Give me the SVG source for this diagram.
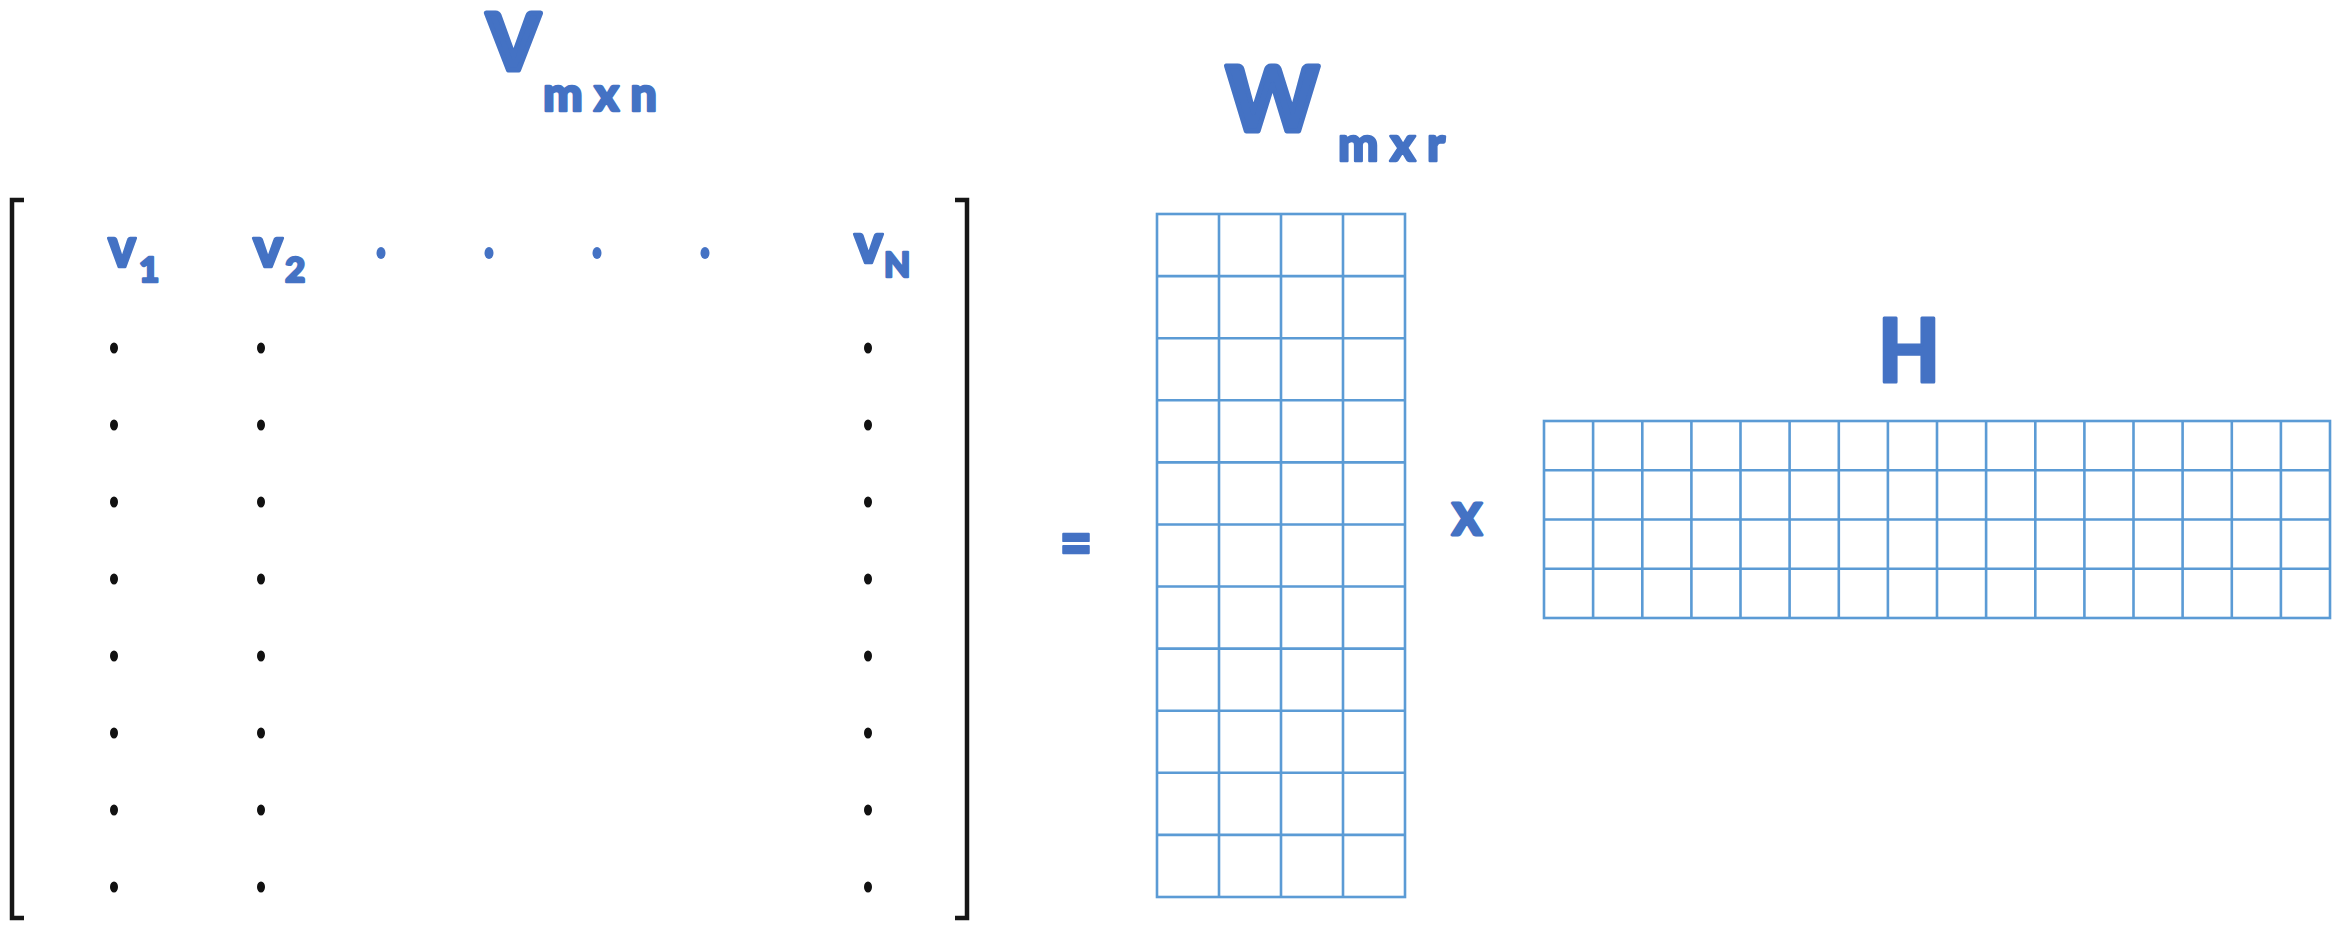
<svg xmlns="http://www.w3.org/2000/svg" width="2343" height="925" viewBox="0 0 2343 925">
<style>
.t{font-family:Lato,"Open Sans","Liberation Sans",sans-serif;font-weight:900;fill:#4472C4;stroke:#4472C4;stroke-linejoin:round}
.b{stroke-width:5}
.m{stroke-width:3}
.s{stroke-width:2.4}
.grid{fill:none;stroke:#5B9BD5;stroke-width:2.6}
.br{fill:none;stroke:#161616;stroke-width:4.5}
.bd{fill:#4472C4}
.kd{fill:#111}
</style>
<rect width="2343" height="925" fill="#fff"/>
<g id="V-label">
<text class="t b" x="487" y="69.5" font-size="78" textLength="53" lengthAdjust="spacingAndGlyphs">V</text>
<text class="t s" x="543" y="111" font-size="47" textLength="114" lengthAdjust="spacingAndGlyphs">m x n</text>
</g>
<g id="V-matrix">
<path class="br" d="M24,200 H12 V918 H24"/>
<path class="br" d="M955,200 H967 V918 H955"/>
<text class="t s" x="108" y="267" font-size="55" textLength="28" lengthAdjust="spacingAndGlyphs">v</text>
<text class="t s" x="139" y="282" font-size="35">1</text>
<text class="t s" x="253" y="267" font-size="55" textLength="30" lengthAdjust="spacingAndGlyphs">v</text>
<text class="t s" x="285" y="282" font-size="35">2</text>
<text class="t s" x="854" y="263" font-size="55" textLength="29" lengthAdjust="spacingAndGlyphs">v</text>
<text class="t s" x="884" y="277" font-size="34">N</text>
<g class="bd">
<ellipse cx="381" cy="253" rx="4.5" ry="6"/>
<ellipse cx="489" cy="253" rx="4.5" ry="6"/>
<ellipse cx="597" cy="253" rx="4.5" ry="6"/>
<ellipse cx="705" cy="253" rx="4.5" ry="6"/>
</g>
<g class="kd">
<ellipse cx="114" cy="348" rx="4" ry="5.5"/><ellipse cx="261" cy="348" rx="4" ry="5.5"/><ellipse cx="868" cy="348" rx="4" ry="5.5"/>
<ellipse cx="114" cy="425" rx="4" ry="5.5"/><ellipse cx="261" cy="425" rx="4" ry="5.5"/><ellipse cx="868" cy="425" rx="4" ry="5.5"/>
<ellipse cx="114" cy="502" rx="4" ry="5.5"/><ellipse cx="261" cy="502" rx="4" ry="5.5"/><ellipse cx="868" cy="502" rx="4" ry="5.5"/>
<ellipse cx="114" cy="579" rx="4" ry="5.5"/><ellipse cx="261" cy="579" rx="4" ry="5.5"/><ellipse cx="868" cy="579" rx="4" ry="5.5"/>
<ellipse cx="114" cy="656" rx="4" ry="5.5"/><ellipse cx="261" cy="656" rx="4" ry="5.5"/><ellipse cx="868" cy="656" rx="4" ry="5.5"/>
<ellipse cx="114" cy="733" rx="4" ry="5.5"/><ellipse cx="261" cy="733" rx="4" ry="5.5"/><ellipse cx="868" cy="733" rx="4" ry="5.5"/>
<ellipse cx="114" cy="810" rx="4" ry="5.5"/><ellipse cx="261" cy="810" rx="4" ry="5.5"/><ellipse cx="868" cy="810" rx="4" ry="5.5"/>
<ellipse cx="114" cy="887" rx="4" ry="5.5"/><ellipse cx="261" cy="887" rx="4" ry="5.5"/><ellipse cx="868" cy="887" rx="4" ry="5.5"/>
</g>
</g>
<g id="equals">
<text class="t s" x="1076" y="566" font-size="68" text-anchor="middle" textLength="33" lengthAdjust="spacingAndGlyphs">=</text>
</g>
<g id="W-matrix">
<text class="t b" x="1226" y="130.5" font-size="90" textLength="93" lengthAdjust="spacingAndGlyphs">W</text>
<text class="t s" x="1338" y="161" font-size="48" textLength="107" lengthAdjust="spacingAndGlyphs">m x r</text>
<rect class="grid" x="1157" y="214" width="248" height="683"/>
<path class="grid" d="M1219,214V897M1281,214V897M1343,214V897M1157,276.1H1405M1157,338.2H1405M1157,400.3H1405M1157,462.4H1405M1157,524.5H1405M1157,586.5H1405M1157,648.6H1405M1157,710.7H1405M1157,772.8H1405M1157,834.9H1405"/>
</g>
<g id="times">
<text class="t m" x="1452" y="534.5" font-size="44" textLength="30" lengthAdjust="spacingAndGlyphs">X</text>
</g>
<g id="H-matrix">
<text class="t m" x="1878" y="381.5" font-size="88" textLength="62" lengthAdjust="spacingAndGlyphs">H</text>
<rect class="grid" x="1544" y="421" width="786" height="197"/>
<path class="grid" d="M1593.1,421V618M1642.3,421V618M1691.4,421V618M1740.5,421V618M1789.6,421V618M1838.8,421V618M1887.9,421V618M1937,421V618M1986.1,421V618M2035.3,421V618M2084.4,421V618M2133.5,421V618M2182.6,421V618M2231.8,421V618M2280.9,421V618M1544,470.25H2330M1544,519.5H2330M1544,568.75H2330"/>
</g>
</svg>
